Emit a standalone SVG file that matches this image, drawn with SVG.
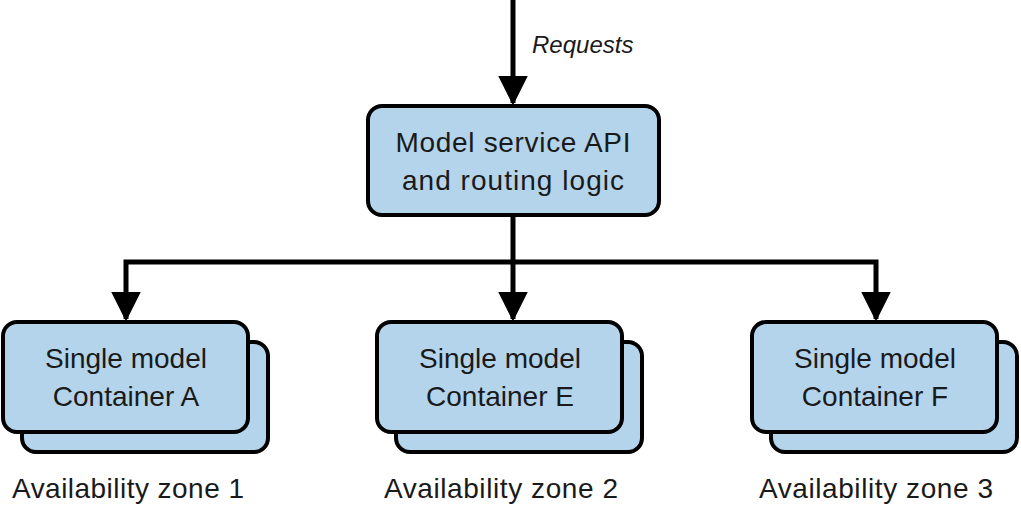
<svg xmlns="http://www.w3.org/2000/svg" width="1021" height="508" viewBox="0 0 1021 508">
<style>
.b{fill:#b3d4ea;stroke:#000;stroke-width:4}
.t{font-family:"Liberation Sans",Arial,sans-serif;font-size:28px;fill:#1a1a1a;text-anchor:middle}
.c{fill:none;stroke:#000;stroke-width:5;stroke-linejoin:miter}
</style>
<defs><marker id="a" markerWidth="6" markerHeight="6" refX="5.5" refY="3" orient="auto" markerUnits="strokeWidth"><path d="M0,0L6,3L0,6z" fill="#000"/></marker></defs>
<rect width="1021" height="508" fill="#fff"/>
<g id="connectors">
<path class="c" d="M513,0V103" marker-end="url(#a)"/>
<path class="c" d="M513,215V319" marker-end="url(#a)"/>
<path class="c" d="M513,262H126V319" marker-end="url(#a)"/>
<path class="c" d="M513,262H876V319" marker-end="url(#a)"/>
<text x="532" y="53" class="t" style="text-anchor:start;font-style:italic;font-size:24px">Requests</text>
</g>
<g id="api"><rect class="b" x="368" y="106" width="291" height="109" rx="14"/>
<text class="t" x="513" y="152" textLength="235">Model service API</text><text class="t" x="513" y="190" textLength="222">and routing logic</text></g>
<g id="containerA"><rect class="b" x="22" y="342" width="246" height="110" rx="14"/><rect class="b" x="3" y="322" width="245" height="110" rx="14"/>
<text class="t" x="126" y="368">Single model</text><text class="t" x="126" y="406">Container A</text></g>
<g id="containerE"><rect class="b" x="396" y="342" width="246" height="110" rx="14"/><rect class="b" x="377" y="322" width="245" height="110" rx="14"/>
<text class="t" x="500" y="368">Single model</text><text class="t" x="500" y="406">Container E</text></g>
<g id="containerF"><rect class="b" x="771" y="342" width="246" height="110" rx="14"/><rect class="b" x="752" y="322" width="245" height="110" rx="14"/>
<text class="t" x="875" y="368">Single model</text><text class="t" x="875" y="406">Container F</text></g>
<text class="t" x="128" y="498" textLength="232">Availability zone 1</text>
<text class="t" x="501" y="498" textLength="234">Availability zone 2</text>
<text class="t" x="876" y="498" textLength="234">Availability zone 3</text>
</svg>
